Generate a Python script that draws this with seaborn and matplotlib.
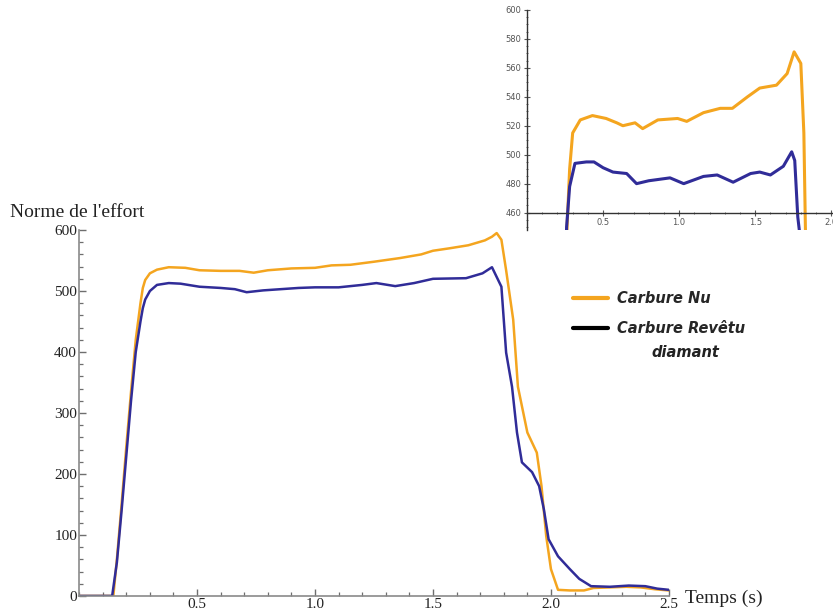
import numpy as np
import pandas as pd
import matplotlib
matplotlib.use("Agg")
import matplotlib.pyplot as plt
from matplotlib.lines import Line2D
from matplotlib.ticker import MultipleLocator
import seaborn as sns

# --- DATA ---
# main plot: time (s) / force norm
t_nu = [0.0, 0.145, 0.16, 0.18, 0.20, 0.22, 0.24, 0.26, 0.27, 0.28, 0.30, 0.33, 0.38,
        0.45, 0.51, 0.60, 0.68, 0.74, 0.80, 0.90, 1.00, 1.07, 1.15, 1.25, 1.36,
        1.45, 1.50, 1.57, 1.65, 1.72, 1.75, 1.77, 1.79, 1.81, 1.84, 1.86, 1.90,
        1.94, 1.96, 1.98, 2.00, 2.03, 2.08, 2.14, 2.18, 2.25, 2.32, 2.38, 2.44, 2.50]
f_nu = [0, 0, 60, 150, 245, 335, 420, 480, 505, 518, 529, 535, 539,
        538, 534, 533, 533, 530, 534, 537, 538, 542, 543, 548, 554,
        560, 566, 570, 575, 583, 589, 595, 584, 534, 453, 343, 268,
        235, 180, 98, 44, 10, 9, 9, 13, 14, 15, 14, 11, 9]

t_rev = [0.0, 0.14, 0.16, 0.18, 0.20, 0.22, 0.24, 0.26, 0.27, 0.28, 0.30, 0.33, 0.38,
         0.43, 0.51, 0.60, 0.66, 0.71, 0.78, 0.93, 1.00, 1.10, 1.20, 1.26, 1.34,
         1.42, 1.50, 1.64, 1.71, 1.75, 1.79, 1.81, 1.835, 1.856, 1.877, 1.92,
         1.95, 1.97, 1.99, 2.03, 2.08, 2.12, 2.17, 2.25, 2.33, 2.40, 2.45, 2.50]
f_rev = [0, 0, 55, 140, 230, 320, 400, 450, 472, 486, 500, 510, 513,
         512, 507, 505, 503, 498, 501, 505, 506, 506, 510, 513, 508,
         513, 520, 521, 529, 539, 507, 399, 343, 268, 219, 203,
         180, 142, 93, 65, 44, 28, 16, 15, 17, 16, 12, 10]

# inset (zoom on the plateau)
ti_nu = [0.25, 0.263, 0.28, 0.30, 0.35, 0.43, 0.52, 0.59, 0.63, 0.71, 0.76, 0.86,
         0.99, 1.05, 1.16, 1.27, 1.35, 1.45, 1.53, 1.64, 1.71, 1.756, 1.80, 1.82,
         1.83, 1.84]
fi_nu = [400, 450, 490, 515, 524, 527, 525, 522, 520, 522, 518, 524,
         525, 523, 529, 532, 532, 540, 546, 548, 556, 571, 563, 515,
         450, 400]

ti_rev = [0.25, 0.26, 0.28, 0.315, 0.39, 0.44, 0.50, 0.565, 0.655, 0.72, 0.80, 0.94,
          1.03, 1.16, 1.25, 1.355, 1.47, 1.53, 1.60, 1.685, 1.74, 1.76, 1.78,
          1.79, 1.80]
fi_rev = [400, 450, 478, 494, 495, 495, 491, 488, 487, 480, 482, 484,
          480, 485, 486, 481, 487, 488, 486, 492, 502, 496, 457,
          448, 400]

labels = ["Carbure Nu", "Carbure Revêtu"]
label_extra = "diamant"

ORANGE = "#f4a51f"
BLUE = "#302c98"
AXIS = "#8a8a8a"

sns.set_theme(style="white")
plt.rcParams["font.family"] = ["Liberation Serif", "DejaVu Serif"]

fig = plt.figure(figsize=(8.33, 6.15), dpi=100)

# ---------------- main axes ----------------
ax = fig.add_axes([0.095, 0.031, 0.708, 0.595])
df_nu = pd.DataFrame({"t": t_nu, "f": f_nu})
df_rev = pd.DataFrame({"t": t_rev, "f": f_rev})
sns.lineplot(data=df_nu, x="t", y="f", ax=ax, color=ORANGE, lw=1.8)
sns.lineplot(data=df_rev, x="t", y="f", ax=ax, color=BLUE, lw=1.8)

ax.set_xlim(0, 2.5)
ax.set_ylim(0, 600)
ax.set_xlabel("")
ax.set_ylabel("")
ax.set_xticks([0.5, 1.0, 1.5, 2.0, 2.5])
ax.set_xticklabels(["0.5", "1.0", "1.5", "2.0", "2.5"])
ax.xaxis.set_minor_locator(MultipleLocator(0.1))
ax.yaxis.set_major_locator(MultipleLocator(100))
ax.yaxis.set_minor_locator(MultipleLocator(20))
for s in ["top", "right"]:
    ax.spines[s].set_visible(False)
for s in ["left", "bottom"]:
    ax.spines[s].set_color(AXIS)
    ax.spines[s].set_linewidth(1.2)
ax.tick_params(which="both", direction="in", colors="#6e6e6e", labelcolor="#222222",
               labelsize=11, pad=1.5, bottom=True, left=True)
ax.tick_params(which="major", length=5, width=1)
ax.tick_params(which="minor", length=3, width=0.9)

fig.text(0.012, 0.655, "Norme de l'effort", fontsize=14, color="#222222",
         va="center", ha="left")
fig.text(0.822, 0.027, "Temps (s)", fontsize=14, color="#222222",
         va="center", ha="left")

# legend
handles = [Line2D([], [], color=ORANGE, lw=3),
           Line2D([], [], color="black", lw=3)]
legend_font = {"family": "DejaVu Sans", "weight": "bold", "style": "italic",
               "size": 10.5}
leg = ax.legend(handles, labels, loc="upper left", bbox_to_anchor=(0.815, 0.87),
                frameon=False, handlelength=2.4, handletextpad=0.6,
                labelspacing=1.05, prop=legend_font)
fig.text(0.823, 0.427, label_extra, ha="center", va="center", color="#222222",
         **{"family": "DejaVu Sans", "weight": "bold", "style": "italic",
            "fontsize": 10.5})

# ---------------- inset ----------------
axi = fig.add_axes([0.6327, 0.626, 0.3661, 0.358])
di_nu = pd.DataFrame({"t": ti_nu, "f": fi_nu})
di_rev = pd.DataFrame({"t": ti_rev, "f": fi_rev})
sns.lineplot(data=di_nu, x="t", y="f", ax=axi, color=ORANGE, lw=2.2)
sns.lineplot(data=di_rev, x="t", y="f", ax=axi, color=BLUE, lw=2.2)
axi.set_xlim(0, 2.005)
axi.set_ylim(448, 600)
axi.set_xlabel("")
axi.set_ylabel("")
axi.patch.set_alpha(0)
axi.set_xticks([0.5, 1.0, 1.5, 2.0])
axi.set_xticklabels(["0.5", "1.0", "1.5", "2.0"])
axi.xaxis.set_minor_locator(MultipleLocator(0.1))
axi.set_yticks([460, 480, 500, 520, 540, 560, 580, 600])
axi.yaxis.set_minor_locator(MultipleLocator(5))
for s in ["top", "right"]:
    axi.spines[s].set_visible(False)
axi.spines["bottom"].set_position(("data", 460))
for s in ["left", "bottom"]:
    axi.spines[s].set_color("#333333")
    axi.spines[s].set_linewidth(1.0)
axi.tick_params(which="both", direction="inout", colors="#555555",
                labelcolor="#555555", labelsize=6, pad=2,
                labelfontfamily="DejaVu Sans", bottom=True, left=True)
axi.tick_params(which="major", length=4, width=0.8)
axi.tick_params(which="minor", length=2, width=0.6)

fig.savefig("out.png", dpi=100, facecolor="white")
